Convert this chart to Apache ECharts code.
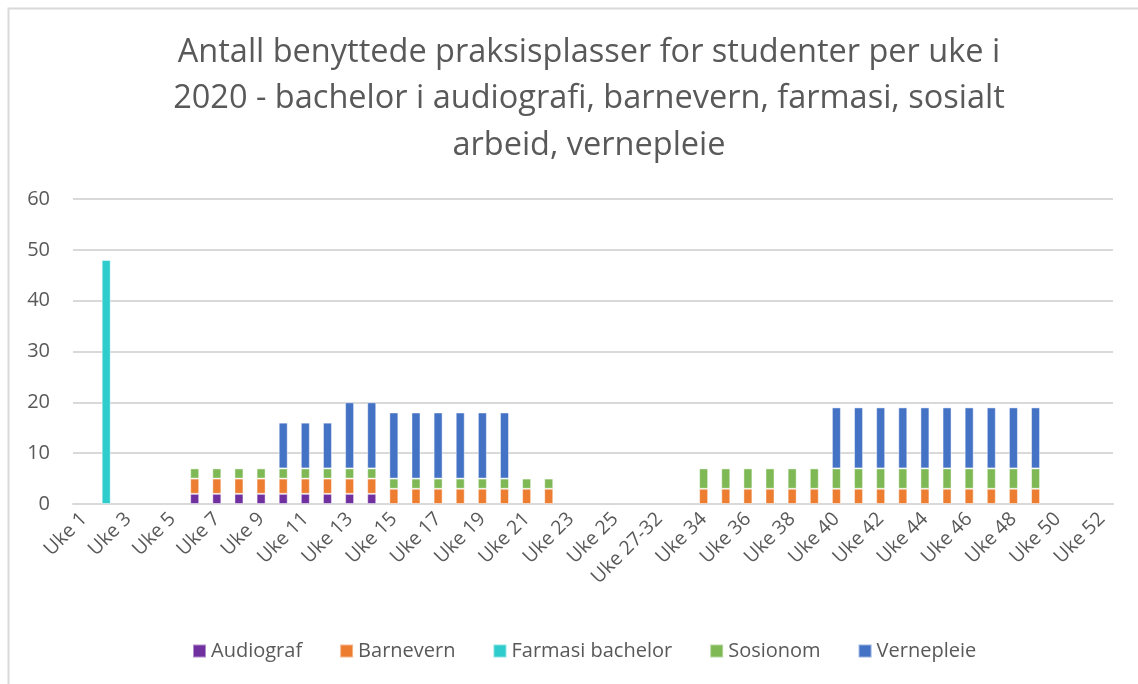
<!DOCTYPE html>
<html>
<head>
<meta charset="utf-8">
<script src="https://cdn.jsdelivr.net/npm/echarts@6/dist/echarts.min.js"></script>
<style>
html,body{margin:0;padding:0;background:#fff;}
#chart{width:1138px;height:684px;}
</style>
</head>
<body>
<div id="chart"></div>
<script>
var titleText = 'Antall benyttede praksisplasser for studenter per uke i\n2020 - bachelor i audiografi, barnevern, farmasi, sosialt\narbeid, vernepleie';

var categories = ['Uke 1','Uke 2','Uke 3','Uke 4','Uke 5','Uke 6','Uke 7','Uke 8','Uke 9','Uke 10',
  'Uke 11','Uke 12','Uke 13','Uke 14','Uke 15','Uke 16','Uke 17','Uke 18','Uke 19','Uke 20',
  'Uke 21','Uke 22','Uke 23','Uke 24','Uke 25','Uke 26','Uke 27-32','Uke 33','Uke 34','Uke 35',
  'Uke 36','Uke 37','Uke 38','Uke 39','Uke 40','Uke 41','Uke 42','Uke 43','Uke 44','Uke 45',
  'Uke 46','Uke 47','Uke 48','Uke 49','Uke 50','Uke 51','Uke 52'];

var audiograf = [null,null,null,null,null,2,2,2,2,2,
  2,2,2,2,null,null,null,null,null,null,
  null,null,null,null,null,null,null,null,null,null,
  null,null,null,null,null,null,null,null,null,null,
  null,null,null,null,null,null,null];

var barnevern = [null,null,null,null,null,3,3,3,3,3,
  3,3,3,3,3,3,3,3,3,3,
  3,3,null,null,null,null,null,null,3,3,
  3,3,3,3,3,3,3,3,3,3,
  3,3,3,3,null,null,null];

var farmasi = [null,48,null,null,null,null,null,null,null,null,
  null,null,null,null,null,null,null,null,null,null,
  null,null,null,null,null,null,null,null,null,null,
  null,null,null,null,null,null,null,null,null,null,
  null,null,null,null,null,null,null];

var sosionom = [null,null,null,null,null,2,2,2,2,2,
  2,2,2,2,2,2,2,2,2,2,
  2,2,null,null,null,null,null,null,4,4,
  4,4,4,4,4,4,4,4,4,4,
  4,4,4,4,null,null,null];

var vernepleie = [null,null,null,null,null,null,null,null,null,9,
  9,9,13,13,13,13,13,13,13,13,
  null,null,null,null,null,null,null,null,null,null,
  null,null,null,null,12,12,12,12,12,12,
  12,12,12,12,null,null,null];

var seriesNames = ['Audiograf','Barnevern','Farmasi bachelor','Sosionom','Vernepleie'];
var seriesData = [audiograf, barnevern, farmasi, sosionom, vernepleie];
var colors = ['#7030A0','#ED7D31','#2ECCCC','#7EB955','#4472C4'];

var FONT = 'Open Sans';
var chart = echarts.init(document.getElementById('chart'), null, {renderer:'canvas'});

var series = seriesNames.map(function(n, i){
  return {
    name: n,
    type: 'bar',
    stack: 'total',
    barWidth: 9,
    data: seriesData[i],
    itemStyle: {color: colors[i], borderColor: 'rgba(255,255,255,0.45)', borderWidth: 1},
    emphasis: {disabled: true}
  };
});

chart.setOption({
  animation: false,
  color: colors,
  graphic: [{
    type: 'rect',
    shape: {x: 8.5, y: 8.5, width: 1200, height: 800},
    style: {fill: 'none', stroke: '#d9d9d9', lineWidth: 2},
    silent: true
  }],
  title: {
    text: titleText,
    left: 584,
    top: 24,
    textAlign: 'center',
    textStyle: {fontFamily: FONT, fontSize: 32.5, fontWeight: 'normal', color: '#595959', lineHeight: 46.5}
  },
  legend: {
    bottom: 18,
    left: 187,
    itemWidth: 13,
    itemHeight: 13,
    itemGap: 37,
    icon: 'rect',
    textStyle: {fontFamily: FONT, fontSize: 20, color: '#595959'},
    data: seriesNames
  },
  grid: {left: 73, right: 25, top: 199, bottom: 180, containLabel: false},
  xAxis: {
    type: 'category',
    data: categories,
    axisLine: {lineStyle: {color: '#d9d9d9', width: 2}},
    axisTick: {show: false},
    axisLabel: {interval: 1, rotate: 45, margin: 12, fontFamily: FONT, fontSize: 19.5, color: '#595959'}
  },
  yAxis: {
    type: 'value',
    min: 0, max: 60, interval: 10,
    axisLine: {show: false},
    axisTick: {show: false},
    splitLine: {lineStyle: {color: '#d9d9d9', width: 2}},
    axisLabel: {margin: 23, fontFamily: FONT, fontSize: 20, color: '#595959'}
  },
  series: series
});
</script>
</body>
</html>
